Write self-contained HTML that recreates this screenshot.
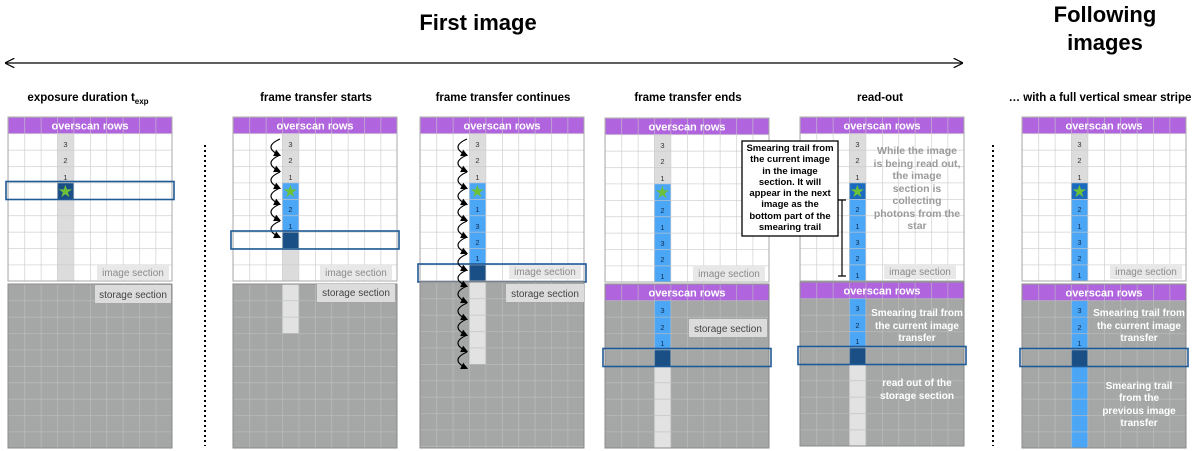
<!DOCTYPE html>
<html><head><meta charset="utf-8"><style>
html,body{margin:0;padding:0;background:#fff;}
svg{display:block;font-family:"Liberation Sans",sans-serif;}
.t{font-weight:bold;font-size:11.5px;fill:#000;text-anchor:middle}
.os{font-weight:bold;font-size:11px;fill:#fff;text-anchor:middle}
.n{font-size:7.5px;fill:#333;text-anchor:middle}
.nb{font-size:7.5px;fill:#0d2e55;text-anchor:middle}
.lab{font-size:10px;fill:#8a8a8a;text-anchor:middle}
.slab{font-size:10px;fill:#444;text-anchor:middle}
.g{font-size:10.5px;font-weight:bold;fill:#9a9a9a;text-anchor:middle}
.w{font-size:10px;font-weight:bold;fill:#fff;text-anchor:middle}
.c{font-size:9.5px;font-weight:bold;fill:#000;text-anchor:middle}
.star{font-size:17px;fill:#6cc13a;text-anchor:middle}
.box{fill:none;stroke:#1f5a96;stroke-width:1.6}
.arr{fill:none;stroke:#000;stroke-width:1.2;marker-end:url(#ah)}
</style></head><body>
<svg width="1200" height="451" viewBox="0 0 1200 451" xmlns="http://www.w3.org/2000/svg">
<defs>
<pattern id="gl" width="16.4" height="16.4" patternUnits="userSpaceOnUse"><path d="M0 0H16.4M0 0V16.4" stroke="#c9c9c9" stroke-width="1.2" fill="none"/></pattern>
<pattern id="gs" width="16.4" height="16.4" patternUnits="userSpaceOnUse"><path d="M0 0H16.4M0 0V16.4" stroke="#bdbfbe" stroke-width="1.2" fill="none"/></pattern>
<marker id="ah" markerWidth="6" markerHeight="6" refX="5" refY="3" orient="auto"><path d="M0,0 L6,3 L0,6 Z" fill="#000"/></marker>
<marker id="dh" markerWidth="8" markerHeight="8" refX="7" refY="4" orient="auto-start-reverse"><path d="M0,0 L8,4 L0,8" fill="none" stroke="#000"/></marker>
</defs>

<text x="478" y="30" style="font-size:22px;font-weight:bold;text-anchor:middle">First image</text>
<text x="1105" y="22" style="font-size:22px;font-weight:bold;text-anchor:middle">Following</text>
<text x="1105" y="50" style="font-size:22px;font-weight:bold;text-anchor:middle">images</text>
<line x1="6" y1="63" x2="962" y2="63" stroke="#000" stroke-width="1.2" marker-start="url(#dh)" marker-end="url(#dh)"/>

<text class="t" x="88" y="101">exposure duration t<tspan font-size="8" dy="3">exp</tspan></text>
<text class="t" x="316" y="101">frame transfer starts</text>
<text class="t" x="503" y="101">frame transfer continues</text>
<text class="t" x="688" y="101">frame transfer ends</text>
<text class="t" x="880" y="101">read-out</text>
<text class="t" x="1100" y="101">… with a full vertical smear stripe</text>

<line x1="205" y1="145" x2="205" y2="446" stroke="#000" stroke-width="2" stroke-dasharray="2,3"/>
<line x1="993" y1="145" x2="993" y2="446" stroke="#000" stroke-width="2" stroke-dasharray="2,3"/>

<!-- Panel 1 -->
<g transform="translate(8,117)">
<rect width="164" height="164" fill="#fff"/><rect width="164" height="16.4" fill="#b064de"/>
<rect x="49.2" y="16.4" width="16.4" height="147.6" fill="#dcdcdc"/>
<rect x="49.2" y="65.6" width="16.4" height="16.4" fill="#1a4f86"/>
<rect width="164" height="164" fill="url(#gl)"/><rect width="164" height="164" fill="none" stroke="#aaa"/>
<text class="os" x="82" y="12.5">overscan rows</text>
<text class="n" x="57.4" y="30">3</text><text class="n" x="57.4" y="46">2</text><text class="n" x="57.4" y="63">1</text>
<text class="star" x="57.4" y="80">★</text>
<rect x="89" y="148" width="72" height="15" fill="#e8e8e8"/><text class="lab" x="125" y="159">image section</text>
<rect x="-2" y="64.5" width="168" height="18" class="box"/>
</g>
<g transform="translate(8,284)">
<rect width="164" height="164" fill="#a5a7a6"/><rect width="164" height="164" fill="url(#gs)"/><rect width="164" height="164" fill="none" stroke="#888"/>
<rect x="87" y="1" width="76" height="18" fill="#dcdcdc"/><text class="slab" x="125" y="14">storage section</text>
</g>

<!-- Panel 2 -->
<g transform="translate(233,117)">
<rect width="164" height="164" fill="#fff"/><rect width="164" height="16.4" fill="#b064de"/>
<rect x="49.2" y="16.4" width="16.4" height="147.6" fill="#dcdcdc"/>
<rect x="49.2" y="65.6" width="16.4" height="49.2" fill="#4ca6f6"/>
<rect x="49.2" y="114.8" width="16.4" height="16.4" fill="#1a4f86"/>
<rect width="164" height="164" fill="url(#gl)"/><rect width="164" height="164" fill="none" stroke="#aaa"/>
<text class="os" x="82" y="12.5">overscan rows</text>
<text class="n" x="57.4" y="30">3</text><text class="n" x="57.4" y="46">2</text><text class="n" x="57.4" y="63">1</text>
<text class="star" x="57.4" y="80">★</text>
<text class="nb" x="57.4" y="95">2</text><text class="nb" x="57.4" y="112">1</text>
<rect x="87" y="148" width="72" height="15" fill="#e8e8e8"/><text class="lab" x="123" y="159">image section</text>
<path class="arr" d="M47 22q-18 8 0 16.4"/><path class="arr" d="M47 38q-18 8 0 16.4"/><path class="arr" d="M47 55q-18 8 0 16.4"/><path class="arr" d="M47 71q-18 8 0 16.4"/><path class="arr" d="M47 87q-18 8 0 16.4"/><path class="arr" d="M47 104q-18 8 0 16.4"/>
<rect x="-2" y="114" width="168" height="18" class="box"/>
</g>
<g transform="translate(233,284)">
<rect width="164" height="164" fill="#a5a7a6"/>
<rect x="49.2" y="0" width="16.4" height="49.2" fill="#e2e2e2"/>
<rect width="164" height="164" fill="url(#gs)"/><rect width="164" height="164" fill="none" stroke="#888"/>
<rect x="84" y="0" width="78" height="18" fill="#dcdcdc"/><text class="slab" x="123" y="12">storage section</text>
</g>

<!-- Panel 3 -->
<g transform="translate(420,117)">
<rect width="164" height="164" fill="#fff"/><rect width="164" height="16.4" fill="#b064de"/>
<rect x="49.2" y="16.4" width="16.4" height="49.2" fill="#dcdcdc"/>
<rect x="49.2" y="65.6" width="16.4" height="82" fill="#4ca6f6"/>
<rect x="49.2" y="147.6" width="16.4" height="16.4" fill="#1a4f86"/>
<rect width="164" height="164" fill="url(#gl)"/><rect width="164" height="164" fill="none" stroke="#aaa"/>
<text class="os" x="82" y="12.5">overscan rows</text>
<text class="n" x="57.4" y="30">3</text><text class="n" x="57.4" y="46">2</text><text class="n" x="57.4" y="63">1</text>
<text class="star" x="57.4" y="80">★</text>
<text class="nb" x="57.4" y="95">1</text><text class="nb" x="57.4" y="112">3</text><text class="nb" x="57.4" y="128">2</text><text class="nb" x="57.4" y="144">1</text>
<rect x="89" y="147" width="72" height="15" fill="#e8e8e8"/><text class="lab" x="125" y="158">image section</text>
<rect x="-2" y="147" width="168" height="18" class="box"/>
</g>
<g transform="translate(420,282)">
<rect width="164" height="166" fill="#a5a7a6"/>
<rect x="49.2" y="0" width="16.4" height="82" fill="#e2e2e2"/>
<rect width="164" height="166" fill="url(#gs)"/><rect width="164" height="166" fill="none" stroke="#888"/>
<rect x="86" y="2" width="78" height="18" fill="#dcdcdc"/><text class="slab" x="125" y="15">storage section</text>
</g>
<g transform="translate(420,117)">
<path class="arr" d="M47 22q-18 8 0 16.4"/><path class="arr" d="M47 38q-18 8 0 16.4"/><path class="arr" d="M47 55q-18 8 0 16.4"/><path class="arr" d="M47 71q-18 8 0 16.4"/><path class="arr" d="M47 87q-18 8 0 16.4"/><path class="arr" d="M47 104q-18 8 0 16.4"/><path class="arr" d="M47 120q-18 8 0 16.4"/><path class="arr" d="M47 137q-18 8 0 16.4"/><path class="arr" d="M47 153q-18 8 0 16.4"/><path class="arr" d="M47 169q-18 8 0 16.4"/><path class="arr" d="M47 186q-18 8 0 16.4"/><path class="arr" d="M47 202q-18 8 0 16.4"/><path class="arr" d="M47 218q-18 8 0 16.4"/><path class="arr" d="M47 235q-18 8 0 16.4"/>
</g>

<!-- Panel 4 -->
<g transform="translate(605,118)">
<rect width="164" height="164" fill="#fff"/><rect width="164" height="16.4" fill="#b064de"/>
<rect x="49.2" y="16.4" width="16.4" height="49.2" fill="#dcdcdc"/>
<rect x="49.2" y="65.6" width="16.4" height="98.4" fill="#4ca6f6"/>
<rect width="164" height="164" fill="url(#gl)"/><rect width="164" height="164" fill="none" stroke="#aaa"/>
<text class="os" x="82" y="12.5">overscan rows</text>
<text class="n" x="57.4" y="30">3</text><text class="n" x="57.4" y="46">2</text><text class="n" x="57.4" y="63">1</text>
<text class="star" x="57.4" y="80">★</text>
<text class="nb" x="57.4" y="95">2</text><text class="nb" x="57.4" y="112">1</text><text class="nb" x="57.4" y="128">3</text><text class="nb" x="57.4" y="144">2</text><text class="nb" x="57.4" y="161">1</text>
<rect x="88" y="148" width="72" height="15" fill="#e8e8e8"/><text class="lab" x="124" y="159">image section</text>
</g>
<g transform="translate(605,284)">
<rect width="164" height="164" fill="#a5a7a6"/><rect width="164" height="16.4" fill="#b064de"/>
<rect x="49.2" y="16.4" width="16.4" height="49.2" fill="#4ca6f6"/>
<rect x="49.2" y="65.6" width="16.4" height="16.4" fill="#1a4f86"/>
<rect x="49.2" y="82" width="16.4" height="82" fill="#e2e2e2"/>
<rect width="164" height="164" fill="url(#gs)"/><rect width="164" height="164" fill="none" stroke="#888"/>
<text class="os" x="82" y="12.5">overscan rows</text>
<text class="nb" x="57.4" y="29">3</text><text class="nb" x="57.4" y="46">2</text><text class="nb" x="57.4" y="62">1</text>
<rect x="84" y="35" width="78" height="18" fill="#dcdcdc"/><text class="slab" x="123" y="48">storage section</text>
<rect x="-2" y="64.5" width="168" height="18" class="box"/>
</g>

<!-- Panel 5 -->
<g transform="translate(800,117)">
<rect width="164" height="164" fill="#fff"/><rect width="164" height="16.4" fill="#b064de"/>
<rect x="49.2" y="16.4" width="16.4" height="49.2" fill="#dcdcdc"/>
<rect x="49.2" y="65.6" width="16.4" height="16.4" fill="#1a6bc0"/>
<rect x="49.2" y="82" width="16.4" height="82" fill="#4ca6f6"/>
<rect width="164" height="164" fill="url(#gl)"/><rect width="164" height="164" fill="none" stroke="#aaa"/>
<text class="os" x="82" y="12.5">overscan rows</text>
<text class="n" x="57.4" y="30">3</text><text class="n" x="57.4" y="46">2</text><text class="n" x="57.4" y="63">1</text>
<text class="star" x="57.4" y="80">★</text>
<text class="nb" x="57.4" y="95">2</text><text class="nb" x="57.4" y="112">1</text><text class="nb" x="57.4" y="128">3</text><text class="nb" x="57.4" y="144">2</text><text class="nb" x="57.4" y="161">1</text>
<rect x="84" y="147" width="72" height="15" fill="#e8e8e8"/><text class="lab" x="120" y="158">image section</text>
</g>
<text class="g" x="917" y="154">While the image</text>
<text class="g" x="917" y="167">is being read out,</text>
<text class="g" x="917" y="179">the image</text>
<text class="g" x="917" y="192">section is</text>
<text class="g" x="917" y="204">collecting</text>
<text class="g" x="917" y="217">photons from the</text>
<text class="g" x="917" y="229">star</text>
<path d="M842 200V276M838 200H846M838 276H846" stroke="#000" stroke-width="1.2" fill="none"/>
<g transform="translate(800,282)">
<rect width="164" height="164" fill="#a5a7a6"/><rect width="164" height="16.4" fill="#b064de"/>
<rect x="49.2" y="16.4" width="16.4" height="49.2" fill="#4ca6f6"/>
<rect x="49.2" y="65.6" width="16.4" height="16.4" fill="#1a4f86"/>
<rect x="49.2" y="82" width="16.4" height="82" fill="#e2e2e2"/>
<rect width="164" height="164" fill="url(#gs)"/><rect width="164" height="164" fill="none" stroke="#888"/>
<text class="os" x="82" y="12.5">overscan rows</text>
<text class="nb" x="57.4" y="29">3</text><text class="nb" x="57.4" y="46">2</text><text class="nb" x="57.4" y="62">1</text>
<rect x="-2" y="64.5" width="168" height="18" class="box"/>
</g>
<text class="w" x="917" y="316">Smearing trail from</text>
<text class="w" x="917" y="329">the current image</text>
<text class="w" x="917" y="341">transfer</text>
<text class="w" x="917" y="386">read out of the</text>
<text class="w" x="917" y="399">storage section</text>

<!-- Callout -->
<rect x="742" y="141" width="96" height="95" fill="#fff" stroke="#000" stroke-width="1.3"/>
<text class="c" x="790" y="151">Smearing trail from</text>
<text class="c" x="790" y="162">the current image</text>
<text class="c" x="790" y="174">in the image</text>
<text class="c" x="790" y="185">section. It will</text>
<text class="c" x="790" y="196">appear in the next</text>
<text class="c" x="790" y="207">image as the</text>
<text class="c" x="790" y="219">bottom part of the</text>
<text class="c" x="790" y="230">smearing trail</text>

<!-- Panel 6 -->
<g transform="translate(1022,117)">
<rect width="164" height="164" fill="#fff"/><rect width="164" height="16.4" fill="#b064de"/>
<rect x="49.2" y="16.4" width="16.4" height="49.2" fill="#dcdcdc"/>
<rect x="49.2" y="65.6" width="16.4" height="16.4" fill="#1a6bc0"/>
<rect x="49.2" y="82" width="16.4" height="82" fill="#4ca6f6"/>
<rect width="164" height="164" fill="url(#gl)"/><rect width="164" height="164" fill="none" stroke="#aaa"/>
<text class="os" x="82" y="12.5">overscan rows</text>
<text class="n" x="57.4" y="30">3</text><text class="n" x="57.4" y="46">2</text><text class="n" x="57.4" y="63">1</text>
<text class="star" x="57.4" y="80">★</text>
<text class="nb" x="57.4" y="95">2</text><text class="nb" x="57.4" y="112">1</text><text class="nb" x="57.4" y="128">3</text><text class="nb" x="57.4" y="144">2</text><text class="nb" x="57.4" y="161">1</text>
<rect x="88" y="147" width="72" height="15" fill="#e8e8e8"/><text class="lab" x="124" y="158">image section</text>
</g>
<g transform="translate(1022,284)">
<rect width="164" height="164" fill="#a5a7a6"/><rect width="164" height="16.4" fill="#b064de"/>
<rect x="49.2" y="16.4" width="16.4" height="49.2" fill="#4ca6f6"/>
<rect x="49.2" y="65.6" width="16.4" height="16.4" fill="#1a4f86"/>
<rect x="49.2" y="82" width="16.4" height="82" fill="#4ca6f6"/>
<rect width="164" height="164" fill="url(#gs)"/><rect width="164" height="164" fill="none" stroke="#888"/>
<text class="os" x="82" y="12.5">overscan rows</text>
<text class="nb" x="57.4" y="29">3</text><text class="nb" x="57.4" y="46">2</text><text class="nb" x="57.4" y="62">1</text>
<rect x="-2" y="64.5" width="168" height="18" class="box"/>
</g>
<text class="w" x="1139" y="316">Smearing trail from</text>
<text class="w" x="1139" y="329">the current image</text>
<text class="w" x="1139" y="341">transfer</text>
<text class="w" x="1139" y="389">Smearing trail</text>
<text class="w" x="1139" y="401">from the</text>
<text class="w" x="1139" y="414">previous image</text>
<text class="w" x="1139" y="426">transfer</text>
</svg>
</body></html>
